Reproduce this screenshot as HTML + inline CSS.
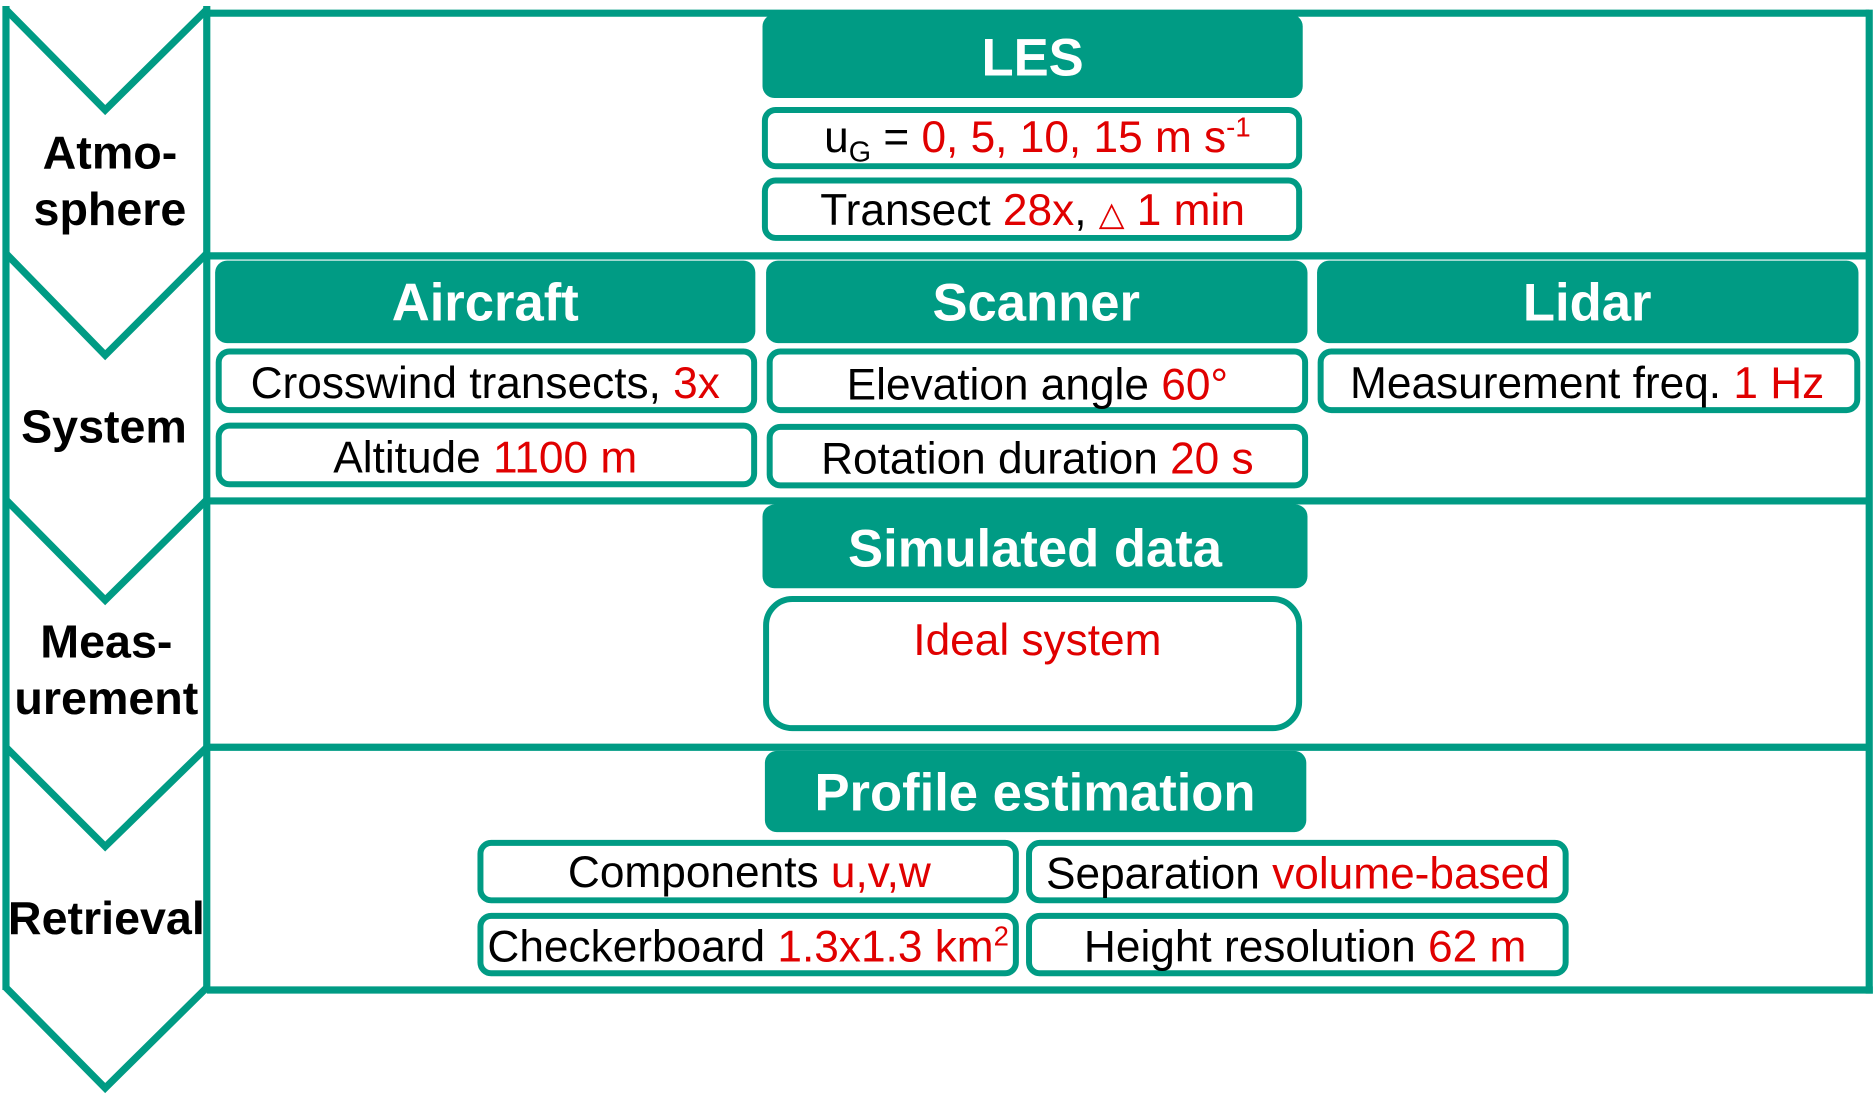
<!DOCTYPE html>
<html><head><meta charset="utf-8"><style>
html,body{margin:0;padding:0;background:#fff;}
svg{display:block;}
text{font-family:"Liberation Sans",Arial,sans-serif;}
.h{font-weight:bold;fill:#fff;font-size:44px;}
.t{fill:#000;font-size:37px;}
.r{fill:#e00000;}
.l{font-weight:bold;fill:#000;font-size:39px;}
</style></head><body>
<svg width="1874" height="1094" viewBox="0 0 1568 915" preserveAspectRatio="none" xmlns="http://www.w3.org/2000/svg">
<g fill="none" stroke="#009b84" stroke-width="6" stroke-linejoin="miter">
  <path d="M5,8 L88,92 L173,8"/>
  <path d="M5,212 L88,297 L173,212"/>
  <path d="M5,418 L88,502 L173,418"/>
  <path d="M5,625 L88,708 L173,625"/>
  <path d="M5,826 L88,910 L173,826"/>
  <line x1="5" y1="5" x2="5" y2="828"/>
  <line x1="173" y1="5" x2="173" y2="828"/>
  <line x1="173" y1="11" x2="1564" y2="11"/>
  <line x1="1564" y1="8" x2="1564" y2="831"/>
  <line x1="173" y1="214" x2="1564" y2="214"/>
  <line x1="173" y1="419" x2="1564" y2="419"/>
  <line x1="173" y1="625" x2="1564" y2="625"/>
  <line x1="173" y1="828" x2="1567" y2="828"/>
</g>
<g fill="#009b84">
  <rect x="638" y="12" width="452" height="70" rx="10"/>
  <rect x="180" y="218" width="452" height="69" rx="10"/>
  <rect x="641" y="218" width="453" height="69" rx="10"/>
  <rect x="1102" y="218" width="453" height="69" rx="10"/>
  <rect x="638" y="422" width="456" height="70" rx="10"/>
  <rect x="640" y="628" width="453" height="68" rx="10"/>
</g>
<g fill="#fff" stroke="#009b84" stroke-width="5">
  <rect x="640" y="92" width="447" height="47" rx="9"/>
  <rect x="640" y="151" width="447" height="48" rx="9"/>
  <rect x="183" y="294" width="448" height="49" rx="9"/>
  <rect x="644" y="294" width="448" height="49" rx="9"/>
  <rect x="1105" y="294" width="449" height="49" rx="9"/>
  <rect x="183" y="356" width="448" height="49" rx="9"/>
  <rect x="644" y="357" width="448" height="49" rx="9"/>
  <rect x="641" y="501" width="446" height="108" rx="22"/>
  <rect x="402" y="705" width="448" height="48" rx="9"/>
  <rect x="861" y="705" width="449" height="48" rx="9"/>
  <rect x="402" y="766" width="448" height="48" rx="9"/>
  <rect x="861" y="766" width="449" height="48" rx="9"/>
</g>
<g text-anchor="middle">
  <text class="l" x="92" y="141">Atmo-</text>
  <text class="l" x="92" y="188">sphere</text>
  <text class="l" x="87" y="370">System</text>
  <text class="l" x="89" y="550">Meas-</text>
  <text class="l" x="89" y="597">urement</text>
  <text class="l" x="89" y="781">Retrieval</text>

  <text class="h" x="864" y="63">LES</text>
  <text class="h" x="406" y="268">Aircraft</text>
  <text class="h" x="867" y="268">Scanner</text>
  <text class="h" x="1328" y="268">Lidar</text>
  <text class="h" x="866" y="474">Simulated data</text>
  <text class="h" x="866" y="678">Profile estimation</text>

  <text class="t" x="868" y="127">u<tspan font-size="24" dy="8">G</tspan><tspan dy="-8"> = </tspan><tspan class="r">0, 5, 10, 15 m s</tspan><tspan class="r" font-size="23" dy="-13">-1</tspan></text>
  <text class="t" x="864" y="188">Transect <tspan class="r">28x</tspan>, <tspan class="r" font-size="28">△</tspan><tspan class="r"> 1 min</tspan></text>
  <text class="t" x="406" y="333">Crosswind transects, <tspan class="r">3x</tspan></text>
  <text class="t" x="868" y="334">Elevation angle <tspan class="r">60°</tspan></text>
  <text class="t" x="1328" y="333">Measurement freq. <tspan class="r">1 Hz</tspan></text>
  <text class="t" x="406" y="395">Altitude <tspan class="r">1100 m</tspan></text>
  <text class="t" x="868" y="396">Rotation duration <tspan class="r">20 s</tspan></text>
  <text class="t r" x="868" y="548">Ideal system</text>
  <text class="t" x="627" y="742">Components <tspan class="r">u,v,w</tspan></text>
  <text class="t" x="1086" y="743">Separation <tspan class="r">volume-based</tspan></text>
  <text class="t" x="626" y="804">Checkerboard <tspan class="r">1.3x1.3 km</tspan><tspan class="r" font-size="23" dy="-13">2</tspan></text>
  <text class="t" x="1092" y="804">Height resolution <tspan class="r">62 m</tspan></text>
</g>
</svg>
</body></html>
